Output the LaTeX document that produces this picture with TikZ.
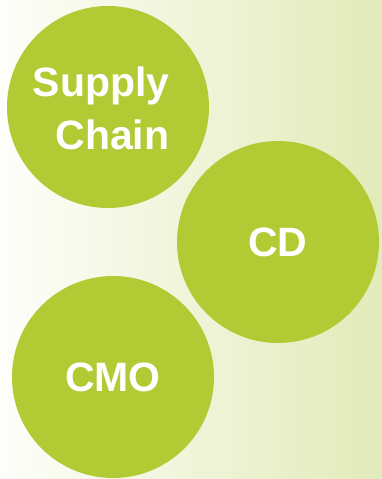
\documentclass[tikz,border=0pt]{standalone}
\usepackage{fontspec}
\setmainfont{Liberation Sans}
\definecolor{ballgreen}{RGB}{178,203,52}
\definecolor{bgright}{RGB}{226,235,185}
\definecolor{bgleft}{RGB}{253,254,250}
\begin{document}
\begin{tikzpicture}[x=1pt,y=-1pt,
  ball/.style={circle,fill=ballgreen,minimum size=202pt,inner sep=0pt,
    text=white,font=\fontsize{41}{53}\selectfont\bfseries,align=center}]
\useasboundingbox (0,0) rectangle (382,479);
\shade[left color=bgleft,right color=bgright] (0,0) rectangle (382,479);
\node[circle,fill=ballgreen,minimum size=202pt,inner sep=0pt] (supply) at (108,107) {};
\node[text=white,font=\fontsize{41}{53}\selectfont\bfseries,align=right] (supplytext) at (101,108) {Supply\\Chain};
\node[ball] (cd) at (278,242) {CD};
\node[ball] (cmo) at (113,377) {CMO};
\end{tikzpicture}
\end{document}
